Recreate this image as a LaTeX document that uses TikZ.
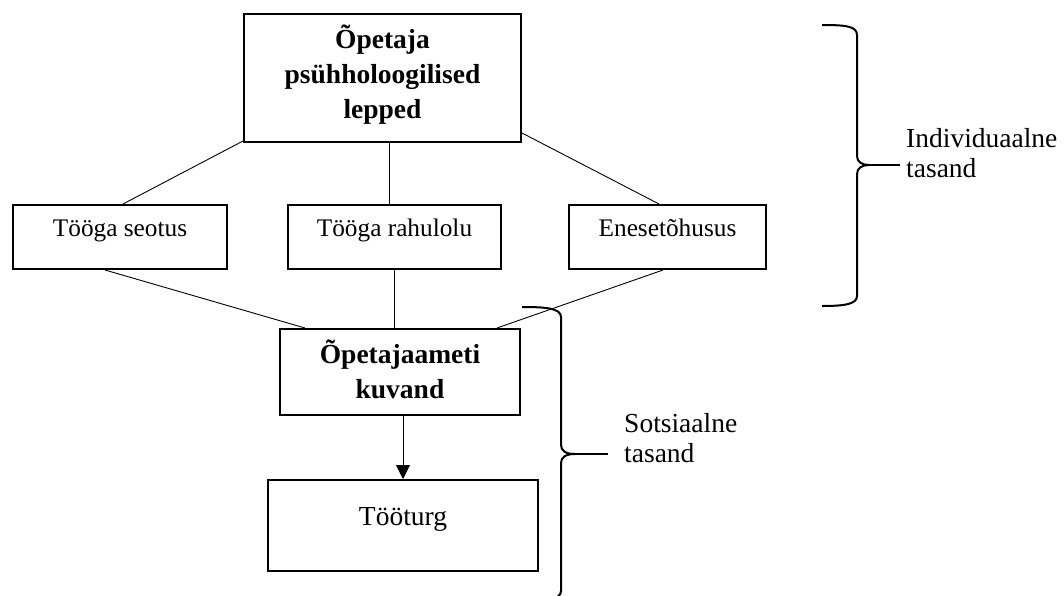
\documentclass[tikz,border=0pt]{standalone}
\usepackage{fontspec}
\setmainfont{Liberation Serif}
\usetikzlibrary{arrows.meta,calc}
\begin{document}
\begin{tikzpicture}[x=1pt,y=-1pt,
  box/.style={draw,line width=2pt,rectangle,inner sep=0pt},
  boldtxt/.style={font=\bfseries\fontsize{27.5}{35}\selectfont},
  midtxt/.style={font=\fontsize{25.3}{30}\selectfont},
  midbox/.style={box,midtxt,minimum height=64pt,text height=16pt,text depth=18pt},
  conn/.style={line width=0.9pt},
  bracepath/.style={line width=2pt},
  lab/.style={font=\fontsize{27.5}{30}\selectfont,anchor=base west,inner sep=0pt,text width=160pt,align=left}]
\useasboundingbox (0,0) rectangle (1064,595);
\path[clip] (0,0) rectangle (1064,595);

% boxes
\node[box,boldtxt,minimum width=277pt,minimum height=128pt,text width=240pt,align=center,text height=20pt,text depth=80pt] (top) at (382.5,78) {Õpetaja\\psühholoogilised\\lepped};
\node[midbox,minimum width=214pt] (seotus) at (120,237) {Tööga seotus};
\node[midbox,minimum width=213pt] (rahulolu) at (394.5,237) {Tööga rahulolu};
\node[midbox,minimum width=197pt] (enes) at (667.5,237) {Enesetõhusus};
\node[box,boldtxt,minimum width=240pt,minimum height=86pt,text width=220pt,align=center,text height=20pt,text depth=38pt] (kuvand) at (400,372) {Õpetajaameti\\kuvand};
\node[box,font=\fontsize{27.5}{30}\selectfont,minimum width=270pt,minimum height=91pt,text height=16pt,text depth=17pt] (turg) at (403,525.5) {Tööturg};

% connectors
\draw[conn] ([yshift=2pt]top.south west) -- ([xshift=3pt]seotus.north);
\draw[conn] ([xshift=6.5pt]top.south) -- ([xshift=-5.5pt]rahulolu.north);
\draw[conn] ([yshift=10pt]top.south east) -- ([xshift=-8.5pt]enes.north);
\draw[conn] ([xshift=-15pt]seotus.south) -- ([xshift=-95pt]kuvand.north);
\draw[conn] (rahulolu.south) -- (rahulolu.south |- kuvand.north);
\draw[conn] ([xshift=-4.5pt]enes.south) -- ([xshift=97pt]kuvand.north);
\draw[conn,-{Triangle[width=14pt,length=14pt]}] ([xshift=3pt]kuvand.south) -- (turg.north);

% braces
\coordinate (b1tip) at (869,165);
\coordinate (b1end) at (900,165);
\draw[bracepath] (822,25) .. controls (845,25) and (857,26) .. (857,35) -- (857,156)
  .. controls (857,162) and (862,165) .. (b1tip)
  .. controls (862,165) and (857,168) .. (857,174) -- (857,296)
  .. controls (857,304) and (845,306) .. (822,306);
\draw[bracepath] (b1tip) -- (b1end);

\coordinate (b2tip) at (575,454);
\coordinate (b2end) at (608,454);
\draw[bracepath] (522,307) .. controls (545,307) and (561,308) .. (561,317) -- (561,445)
  .. controls (561,451) and (566,454) .. (b2tip)
  .. controls (566,454) and (561,457) .. (561,463) -- (561,591)
  .. controls (561,600) and (545,601) .. (522,601);
\draw[bracepath] (b2tip) -- (b2end);

% labels
\node[lab] (indiv) at (906,147) {Individuaalne\\tasand};
\node[lab] (sots) at (624,432) {Sotsiaalne\\tasand};
\end{tikzpicture}
\end{document}
